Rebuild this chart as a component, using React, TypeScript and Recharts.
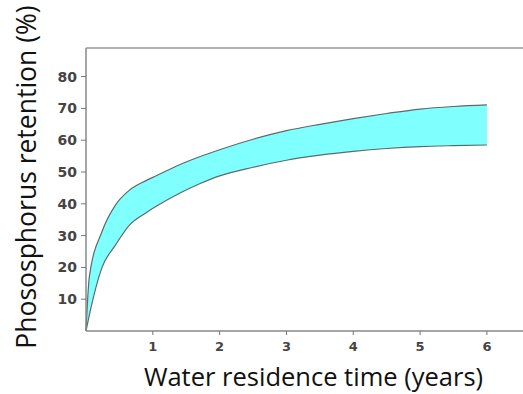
import React from 'react';
import { ComposedChart, Area, XAxis, YAxis, ReferenceLine } from 'recharts';

// values (years, % retention)
const years = [0, 0.05, 0.24, 0.44, 0.65, 0.9, 1.05, 1.4, 1.7, 2, 2.5, 3, 3.5, 4, 4.5, 5, 5.5, 6];
const upperRetention = [0, 17, 31.3, 39.6, 44.3, 47.3, 48.8, 52.3, 54.8, 57, 60.3, 63, 65, 66.8, 68.4, 69.8, 70.6, 71.1];
const lowerRetention = [0, 5, 20, 27, 33.3, 37.2, 39.2, 43.3, 46.3, 48.8, 51.5, 53.7, 55.3, 56.5, 57.4, 58, 58.3, 58.5];
const xTicks = [1, 2, 3, 4, 5, 6];
const yTicks = [10, 20, 30, 40, 50, 60, 70, 80];

const X_MAX = 6.54;
const Y_MAX = 89;

const data = years.map((t, i) => ({ t, lower: lowerRetention[i], upper: upperRetention[i] }));

const tickFont = { fontFamily: 'DejaVu Sans', fontWeight: 'bold', fontSize: 14, fill: '#454545' };
const labelFont = { fontFamily: 'Open Sans', fontSize: 25.5, fill: '#111' };

const App: React.FC = () => {
  return (
    <div style={{ position: 'absolute', left: 0, top: 0, width: 523, height: 394, background: '#fff' }}>
      <ComposedChart width={523} height={394} data={data} margin={{ top: 48, right: 0, bottom: 0, left: 0 }}>
        <XAxis
          dataKey="t"
          type="number"
          domain={[0, X_MAX]}
          ticks={xTicks}
          height={63}
          tick={{ ...tickFont, fontSize: 13 }}
          tickSize={4}
          tickMargin={7}
          axisLine={{ stroke: '#888', strokeWidth: 1.5 }}
          tickLine={{ stroke: '#777' }}
          label={{
            content: ({ viewBox }: any) => (
              <text x={viewBox.x + viewBox.width / 2 + 9} y={386} textAnchor="middle" {...labelFont}>
                Water residence time (years)
              </text>
            ),
          }}
        />
        <YAxis
          type="number"
          domain={[0, Y_MAX]}
          ticks={yTicks}
          width={86}
          tick={tickFont}
          tickSize={5}
          tickMargin={4}
          axisLine={{ stroke: '#888', strokeWidth: 1.5 }}
          tickLine={{ stroke: '#777' }}
          label={{
            content: () => (
              <text x={36} y={177} textAnchor="middle" transform="rotate(-90, 36, 177)" {...labelFont} fontSize={26.5}>
                Phososphorus retention (%)
              </text>
            ),
          }}
        />
        <ReferenceLine y={Y_MAX} stroke="#999" strokeWidth={1.5} />
        <Area
          dataKey={(d: any) => [d.lower, d.upper]}
          type="monotone"
          stroke="#5b6b6b"
          strokeWidth={1.2}
          fill="#80ffff"
          fillOpacity={1}
          isAnimationActive={false}
          dot={false}
          activeDot={false}
        />
      </ComposedChart>
    </div>
  );
};

export default App;
